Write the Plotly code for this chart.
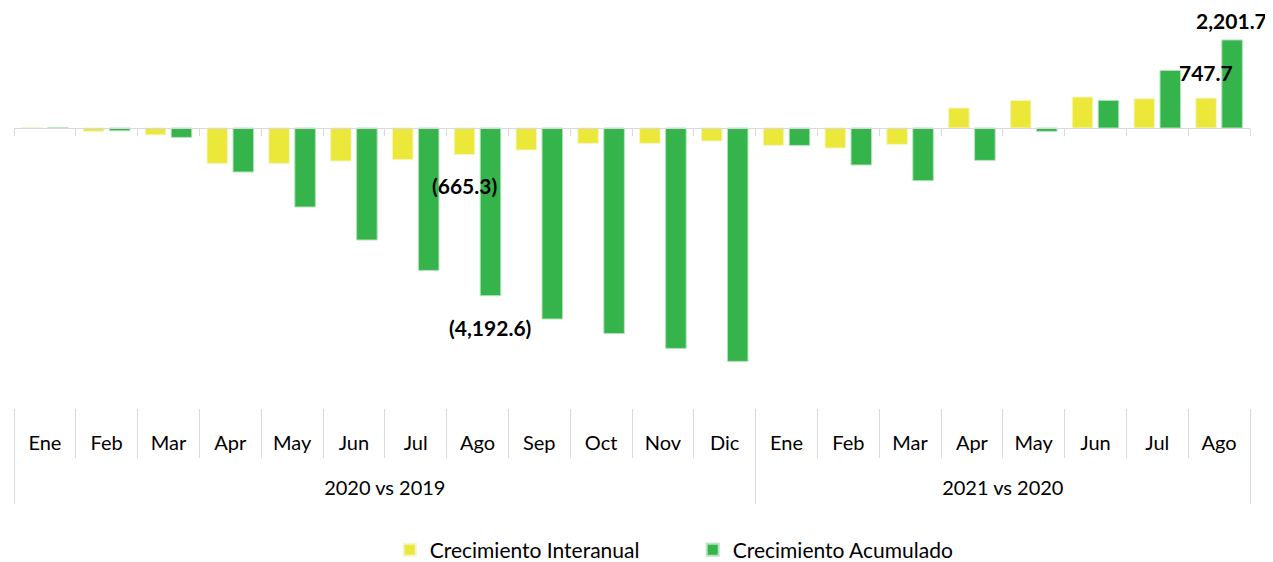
import plotly.graph_objects as go

groups = ["2020 vs 2019"] * 12 + ["2021 vs 2020"] * 8
months = ["Ene", "Feb", "Mar", "Apr", "May", "Jun", "Jul", "Ago", "Sep", "Oct", "Nov", "Dic",
          "Ene", "Feb", "Mar", "Apr", "May", "Jun", "Jul", "Ago"]
interanual = [5, -85, -170, -885, -885, -825, -790, -665.3, -550, -385, -385, -325,
              -435, -500, -410, 500, 690, 775, 733, 747.7]
acumulado = [5, -70, -235, -1100, -1975, -2800, -3560, -4192.6, -4775, -5140, -5510, -5835,
             -435, -925, -1318, -810, -85, 690, 1440, 2201.7]
labelled = [7, 19]  # indices of bars with value labels

YELLOW = "#EBE83A"
GREEN = "#34B44B"
GRID = "#D9D9D9"
FONT = "Lato"
ymin, ymax = -7000, 2950

n = len(months)
pos = list(range(n))
xr = [-0.5, n - 0.5]
month_bounds = [i - 0.5 for i in range(n + 1)]
group_names = list(dict.fromkeys(groups))
group_idx = {g: [i for i, gg in enumerate(groups) if gg == g] for g in group_names}
group_centers = [(min(v) + max(v)) / 2 for v in group_idx.values()]
group_bounds = [-0.5] + [max(v) + 0.5 for v in group_idx.values()]

def fmt(v):
    s = f"{abs(v):,.1f}"
    return f"({s})" if v < 0 else s

fig = go.Figure()
fig.add_trace(go.Bar(x=pos, y=interanual, name="Crecimiento Interanual",
                     marker=dict(color=YELLOW, line=dict(color="#F5F5C8", width=1))))
fig.add_trace(go.Bar(x=pos, y=acumulado, name="Crecimiento Acumulado",
                     marker=dict(color=GREEN, line=dict(color="#B6E3BE", width=1))))

# label offsets (px) for the labelled bars: (xshift, yshift below / above)
label_style = {"int": (-13, -16, 11), "acu": (12, -17, 5)}
for i in labelled:
    for vals, key in ((interanual, "int"), (acumulado, "acu")):
        v = vals[i]
        xs, ys_neg, ys_pos = label_style[key]
        fig.add_annotation(x=pos[i], y=v, xref="x", yref="y", text=f"<b>{fmt(v)}</b>",
                           showarrow=False, xshift=xs,
                           yanchor="top" if v < 0 else "bottom",
                           yshift=ys_neg if v < 0 else ys_pos,
                           font=dict(family=FONT, size=21, color="#000000"))

zero_pos = (0 - ymin) / (ymax - ymin)

common = dict(range=xr, showgrid=False, zeroline=False, automargin=False, fixedrange=True)

fig.update_layout(
    width=1273, height=562,
    margin=dict(l=6, r=31, t=2, b=162, autoexpand=False),
    paper_bgcolor="white", plot_bgcolor="white",
    barmode="group", bargap=0.159, bargroupgap=0.208,
    font=dict(family=FONT, size=20, color="#000000"),
    showlegend=True,
    legend=dict(orientation="h", x=0.304, xanchor="left", y=-0.357, yanchor="middle",
                entrywidth=258,
                font=dict(family=FONT, size=21, color="#000000"), itemsizing="constant"),
    # month labels
    xaxis=dict(tickmode="array", tickvals=pos, ticktext=months, ticks="",
               ticklabelstandoff=21, showline=False,
               tickfont=dict(family=FONT, size=20, color="#000000"), **common),
    # axis line across zero with boundary ticks
    xaxis2=dict(overlaying="x", anchor="free", position=zero_pos, side="bottom",
                tickmode="array", tickvals=month_bounds, showticklabels=False,
                showline=True, linecolor=GRID, linewidth=1,
                ticks="outside", ticklen=7, tickcolor=GRID, **common),
    # month separators in label area
    xaxis3=dict(overlaying="x", anchor="y", side="bottom",
                tickmode="array", tickvals=month_bounds, showticklabels=False,
                showline=False, ticks="outside", ticklen=49, tickcolor=GRID, **common),
    # group separators and group labels
    xaxis4=dict(overlaying="x", anchor="y", side="bottom",
                tickmode="array", tickvals=group_bounds, showticklabels=False,
                showline=False, ticks="outside", ticklen=95, tickcolor=GRID, **common),
    xaxis5=dict(overlaying="x", anchor="y", side="bottom",
                tickmode="array", tickvals=group_centers, ticktext=group_names,
                ticks="", ticklabelstandoff=66, showline=False,
                tickfont=dict(family=FONT, size=20, color="#000000"), **common),
    yaxis=dict(range=[ymin, ymax], visible=False, showgrid=False, zeroline=False,
               automargin=False, fixedrange=True),
)

# empty helper traces so the overlaying axes are drawn
for ax in ("x2", "x3", "x4", "x5"):
    fig.add_trace(go.Scatter(x=[], y=[], xaxis=ax, yaxis="y", showlegend=False,
                             hoverinfo="skip"))

fig.write_html("out.html")
